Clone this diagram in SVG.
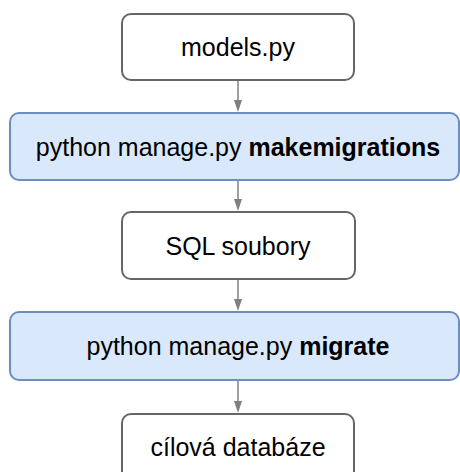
<svg xmlns="http://www.w3.org/2000/svg" width="460" height="472" viewBox="0 0 460 472">
<style>
.n{fill:#ffffff;stroke:#666666;stroke-width:2}
.b{fill:#dae8fc;stroke:#6c8ebf;stroke-width:2}
.t{font-family:"Liberation Sans",Arial,Helvetica,sans-serif;font-size:25px;fill:#000;text-anchor:middle}
.bold{font-weight:bold}
.c{stroke:#808080;stroke-width:1.5;fill:none}
.h{fill:#808080}
</style>
<rect width="460" height="472" fill="#ffffff"/>
<g id="connectors">
<line class="c" x1="238" y1="81" x2="238" y2="101"/>
<polygon class="h" points="234,100 242,100 238,112"/>
<line class="c" x1="238" y1="181" x2="238" y2="200"/>
<polygon class="h" points="234,199 242,199 238,211"/>
<line class="c" x1="238" y1="280" x2="238" y2="300"/>
<polygon class="h" points="234,299 242,299 238,311"/>
<line class="c" x1="238" y1="381" x2="238" y2="402"/>
<polygon class="h" points="234,401 242,401 238,413"/>
</g>
<g id="models">
<rect class="n" x="122" y="14" width="232" height="66" rx="9"/>
<text class="t" x="238" y="55.5">models.py</text>
</g>
<g id="makemigrations">
<rect class="b" x="10" y="113" width="449" height="67" rx="9"/>
<text class="t" x="238" y="155.5">python manage.py <tspan class="bold">makemigrations</tspan></text>
</g>
<g id="sql">
<rect class="n" x="122" y="212" width="233" height="67" rx="9"/>
<text class="t" x="238" y="254.5">SQL soubory</text>
</g>
<g id="migrate">
<rect class="b" x="10" y="312" width="449" height="68" rx="9"/>
<text class="t" x="238" y="354.5">python manage.py <tspan class="bold">migrate</tspan></text>
</g>
<g id="database">
<rect class="n" x="122" y="414" width="232" height="68" rx="9"/>
<text class="t" x="238" y="456">cílová databáze</text>
</g>
</svg>
